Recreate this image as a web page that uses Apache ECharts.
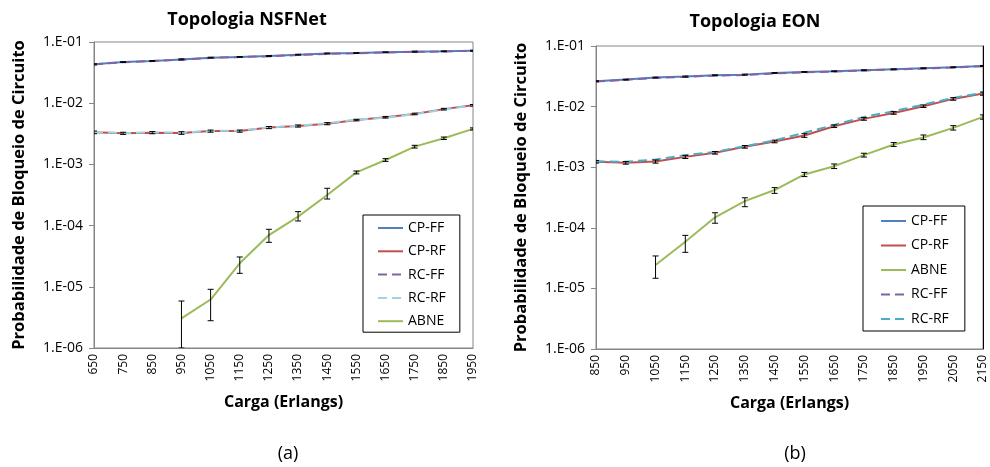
<!DOCTYPE html>
<html>
<head>
<meta charset="utf-8">
<script src="https://cdn.jsdelivr.net/npm/echarts@6/dist/echarts.min.js"></script>
<style>
html,body{margin:0;padding:0;background:#fff;}
#c{width:990px;height:467px;}
</style>
</head>
<body>
<div id="c"></div>
<script>
// ---------- data ----------
const catsA = ['650','750','850','950','1050','1150','1250','1350','1450','1550','1650','1750','1850','1950'];
const catsB = ['850','950','1050','1150','1250','1350','1450','1550','1650','1750','1850','1950','2050','2150'];
const yTickLabels = ['1.E-06','1.E-05','1.E-04','1.E-03','1.E-02','1.E-01'];

// NSFNet
const cpffA = [0.0432,0.047,0.049,0.052,0.0555,0.057,0.059,0.062,0.065,0.066,0.068,0.0695,0.0705,0.072];
const rcffA = [0.0430,0.0468,0.0488,0.0515,0.0550,0.0568,0.0585,0.0612,0.0640,0.0655,0.0675,0.0690,0.0702,0.0718];
const cprfA = [0.00334,0.00322,0.0033,0.00326,0.0035,0.0035,0.0040,0.00424,0.00463,0.0053,0.0059,0.00667,0.0080,0.00924];
const rcrfA = [0.00338,0.00325,0.00334,0.0033,0.00352,0.00356,0.00405,0.00428,0.0047,0.0054,0.0058,0.0066,0.0079,0.0092];
const abneA = [null,null,null,3.05e-6,6.2e-6,2.42e-5,7.0e-5,1.40e-4,3.16e-4,7.4e-4,1.18e-3,1.95e-3,2.67e-3,3.8e-3];
const abneLoA = [null,null,null,1e-6,2.79e-6,1.66e-5,5.33e-5,1.19e-4,2.72e-4,7.0e-4,1.12e-3,1.85e-3,2.55e-3,3.65e-3];
const abneHiA = [null,null,null,5.86e-6,9.1e-6,3.07e-5,8.7e-5,1.69e-4,4.07e-4,7.8e-4,1.24e-3,2.05e-3,2.8e-3,3.95e-3];
const cpffErrA = [2,1.5,1.5,2,1.5,1.5,2,1.5,1.5,1.5,1.5,2,1.5,2];   // % half-width
const cprfErrA = [5,4,4,5,4,4,4,4,4,3,3,3,3,3];

// EON
const cpffB = [0.0262,0.0279,0.0301,0.0313,0.0329,0.0337,0.0359,0.0373,0.0383,0.0398,0.0413,0.043,0.0446,0.0468];
const rcffB = [0.0260,0.0277,0.0298,0.0310,0.0325,0.0333,0.0352,0.0368,0.0378,0.0395,0.0410,0.0425,0.0442,0.0465];
const cprfB = [1.23e-3,1.18e-3,1.24e-3,1.48e-3,1.73e-3,2.17e-3,2.66e-3,3.34e-3,4.75e-3,6.27e-3,7.87e-3,1.016e-2,1.34e-2,1.64e-2];
const rcrfB = [1.25e-3,1.23e-3,1.34e-3,1.58e-3,1.79e-3,2.22e-3,2.76e-3,3.69e-3,5.0e-3,6.76e-3,8.4e-3,1.08e-2,1.39e-2,1.70e-2];
const abneB = [null,null,2.44e-5,5.9e-5,1.49e-4,2.76e-4,4.2e-4,7.6e-4,1.04e-3,1.58e-3,2.37e-3,3.1e-3,4.46e-3,6.76e-3];
const abneLoB = [null,null,1.47e-5,3.94e-5,1.19e-4,2.23e-4,3.7e-4,7.0e-4,0.95e-3,1.47e-3,2.2e-3,2.85e-3,4.1e-3,6.2e-3];
const abneHiB = [null,null,3.43e-5,7.5e-5,1.77e-4,3.13e-4,4.6e-4,8.2e-4,1.13e-3,1.7e-3,2.55e-3,3.4e-3,4.85e-3,7.3e-3];
const cpffErrB = [2,1.5,1.5,2,1.5,2,1.5,1.5,1.5,1.5,1.5,1.5,1.5,2];
const cprfErrB = [5,5,6,6,5,5,5,7,5,5,5,5,5,6];

const seriesNames = ['CP-FF','CP-RF','RC-FF','RC-RF','ABNE'];
const legendOrderB = ['CP-FF','CP-RF','ABNE','RC-FF','RC-RF'];

// ---------- helpers ----------
const FONT = '"Open Sans", sans-serif';
const ZW = '\u200b';
const C = {cpff:'#4F81BD', cprf:'#C0504D', rcff:'#8064A2', rcrfA:'#9DD3E6', rcrfB:'#4BACC6', abne:'#9BBB59'};

function errFromPct(vals, pct){
  return vals.map((v,i)=> v==null ? null : [i, v*(1-pct[i]/100), v*(1+pct[i]/100)]);
}
function errFromBounds(lo, hi){
  return lo.map((l,i)=> l==null ? null : [i, l, hi[i]]);
}
function errSeries(data, gi){
  return {
    type:'custom', xAxisIndex:gi, yAxisIndex: gi===0?0:1, z:10, silent:true,
    clip:true,
    encode:{x:0, y:[1,2]},
    data: data.filter(d=>d!=null),
    renderItem:function(params, api){
      const x = api.value(0), lo = api.value(1), hi = api.value(2);
      const pHi = api.coord([x, hi]);
      const pLo = api.coord([x, lo]);
      const w = 3;
      const st = {stroke:'#000', lineWidth:1};
      return {type:'group', children:[
        {type:'line', shape:{x1:pHi[0],y1:pHi[1],x2:pLo[0],y2:pLo[1]}, style:st},
        {type:'line', shape:{x1:pHi[0]-w,y1:pHi[1],x2:pHi[0]+w,y2:pHi[1]}, style:st},
        {type:'line', shape:{x1:pLo[0]-w,y1:pLo[1],x2:pLo[0]+w,y2:pLo[1]}, style:st}
      ]};
    }
  };
}
function lineSeries(name, data, color, dashed, gi, z){
  return {
    type:'line', name:name, data:data.map(v=>v==null?'-':v),
    xAxisIndex:gi, yAxisIndex: gi===0?0:1,
    symbol:'none', z:z,
    lineStyle:{color:color, width:2, type: dashed?[9,5]:'solid'},
    itemStyle:{color:color},
    connectNulls:false
  };
}
function yLabel(v){
  const e = Math.round(Math.log10(v));
  return yTickLabels[e+6] || '';
}
function makeYAxis(gi){
  return {
    type:'log', logBase:10, min:1e-6, max:0.1, gridIndex:gi,
    name:'Probabilidade de Bloqueio de Circuito', nameLocation:'middle', nameGap:66,
    nameTextStyle:{fontFamily:FONT, fontWeight:'bold', fontSize:16.5, color:'#000'},
    axisLine:{show:true, lineStyle:{color:'#868686', width:1}},
    axisTick:{show:true, length:5, lineStyle:{color:'#868686'}},
    minorTick:{show:false},
    splitLine:{show:false},
    axisLabel:{formatter:yLabel, fontFamily:FONT, fontSize:14, color:'#000', margin:11}
  };
}
function makeXAxis(gi, cats){
  return {
    type:'category', data:cats, boundaryGap:false, gridIndex:gi,
    name:'Carga (Erlangs)', nameLocation:'middle', nameGap:46,
    nameTextStyle:{fontFamily:FONT, fontWeight:'bold', fontSize:16, color:'#000'},
    axisLine:{show:true, onZero:false, lineStyle:{color:'#868686', width:1}},
    axisTick:{show:false},
    splitLine:{show:false},
    axisLabel:{interval:0, rotate:90, fontFamily:FONT, fontSize:12, color:'#000', margin:6}
  };
}
const legendCommon = {
  orient:'vertical', itemWidth:25, itemHeight:14,
  borderColor:'#000', borderWidth:1, backgroundColor:'#fff',
  itemStyle:{opacity:0},
  textStyle:{fontFamily:FONT, fontSize:14, color:'#000'}, selectedMode:false
};

const option = {
  animation:false,
  backgroundColor:'#fff',
  title:[
    {text:'Topologia NSFNet', left:242, top:6, textAlign:'center',
     textStyle:{fontFamily:FONT, fontWeight:'bold', fontSize:18, color:'#000'}},
    {text:'Topologia EON', left:750, top:8, textAlign:'center',
     textStyle:{fontFamily:FONT, fontWeight:'bold', fontSize:18, color:'#000'}},
    {text:'(a)', left:283, top:440, textAlign:'center',
     textStyle:{fontFamily:FONT, fontWeight:'normal', fontSize:18, color:'#000'}},
    {text:'(b)', left:790, top:440, textAlign:'center',
     textStyle:{fontFamily:FONT, fontWeight:'normal', fontSize:18, color:'#000'}}
  ],
  grid:[
    {left:94, top:42, width:379, height:306, show:true, borderColor:'#868686', borderWidth:1, backgroundColor:'transparent'},
    {left:596, top:46, width:387, height:303, show:true, borderColor:'#868686', borderWidth:1, backgroundColor:'transparent'}
  ],
  xAxis:[ makeXAxis(0, catsA), makeXAxis(1, catsB) ],
  yAxis:[
    makeYAxis(0), makeYAxis(1),
    {type:'log', logBase:10, min:1e-6, max:0.1, gridIndex:1, position:'right',
     axisLine:{show:true, lineStyle:{color:'#000', width:1}}, axisTick:{show:false},
     axisLabel:{show:false}, splitLine:{show:false}}
  ],
  legend:[
    Object.assign({}, legendCommon, {data:seriesNames, left:363, top:215, itemGap:9.3, padding:[6,14,4,14]}),
    Object.assign({}, legendCommon, {data:legendOrderB.map(n=>n+ZW), left:863, top:206,
      itemGap:10.5, padding:[8,16,5,17], formatter:n=>n.replace(ZW,'')})
  ],
  series:[
    lineSeries('CP-FF', cpffA, C.cpff, false, 0, 2),
    lineSeries('CP-RF', cprfA, C.cprf, false, 0, 2),
    lineSeries('RC-FF', rcffA, C.rcff, true, 0, 3),
    lineSeries('RC-RF', rcrfA, C.rcrfA, true, 0, 3),
    lineSeries('ABNE', abneA, C.abne, false, 0, 4),
    errSeries(errFromPct(cpffA, cpffErrA), 0),
    errSeries(errFromPct(cprfA, cprfErrA), 0),
    errSeries(errFromBounds(abneLoA, abneHiA), 0),

    lineSeries('CP-FF'+ZW, cpffB, C.cpff, false, 1, 2),
    lineSeries('CP-RF'+ZW, cprfB, C.cprf, false, 1, 2),
    lineSeries('ABNE'+ZW, abneB, C.abne, false, 1, 4),
    lineSeries('RC-FF'+ZW, rcffB, C.rcff, true, 1, 3),
    lineSeries('RC-RF'+ZW, rcrfB, C.rcrfB, true, 1, 3),
    errSeries(errFromPct(cpffB, cpffErrB), 1),
    errSeries(errFromPct(cprfB, cprfErrB), 1),
    errSeries(errFromBounds(abneLoB, abneHiB), 1)
  ]
};
const chart = echarts.init(document.getElementById('c'), null, {renderer:'canvas'});
chart.setOption(option);
</script>
</body>
</html>
